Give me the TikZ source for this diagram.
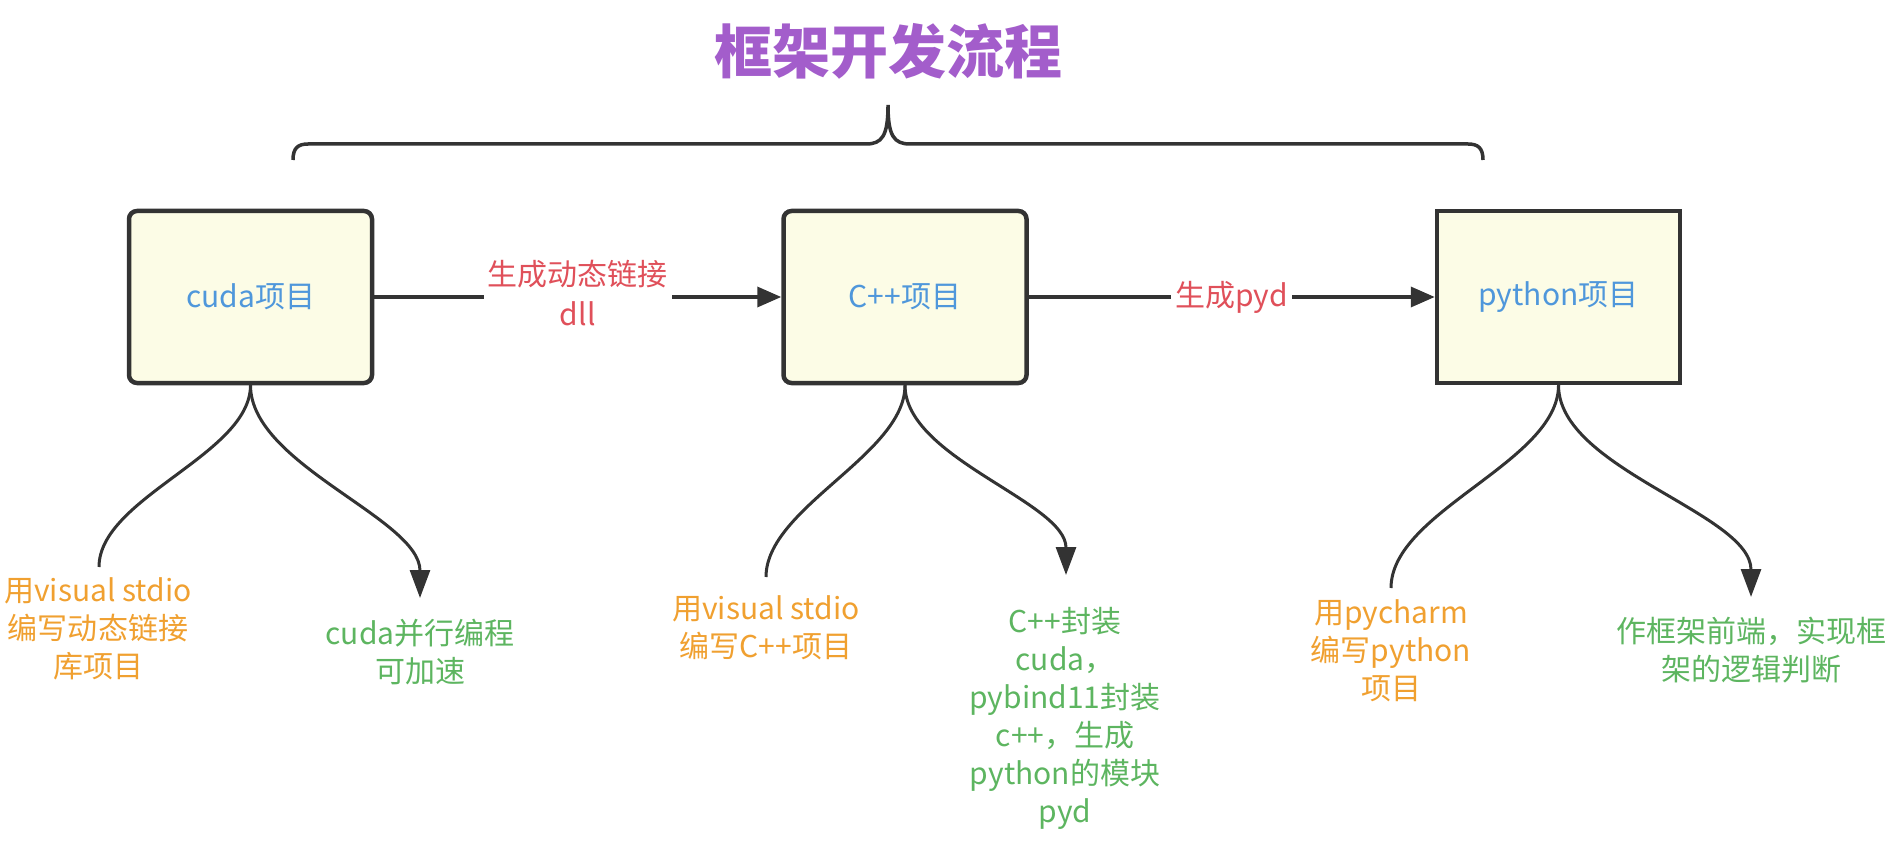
\documentclass[tikz,border=0pt]{standalone}
\usepackage{fontspec}
\setmainfont{Noto Sans CJK SC}
\usetikzlibrary{arrows.meta}
\definecolor{titlepurple}{HTML}{A35DCB}
\definecolor{boxfill}{HTML}{FCFCE6}
\definecolor{boxblue}{HTML}{4F97DB}
\definecolor{linkred}{HTML}{E0505A}
\definecolor{noteorange}{HTML}{F0A030}
\definecolor{notegreen}{HTML}{5DB560}
\definecolor{edgegray}{HTML}{333333}
\begin{document}
\begin{tikzpicture}[x=1pt,y=-1pt,
  proj/.style={draw=edgegray,line width=4.5pt,fill=boxfill,minimum width=243pt,minimum height=172pt,
    text=boxblue,font=\fontsize{30}{36}\selectfont},
  link/.style={edgegray,line width=3.5pt,-{Triangle[length=24pt,width=20pt]}},
  linklabel/.style={fill=white,text=linkred,inner sep=4pt,align=center,font=\fontsize{30}{40}\selectfont},
  branch/.style={edgegray,line width=3pt},
  branchtip/.style={branch,-{Triangle[length=28pt,width=20pt]}},
  note/.style={align=center,inner sep=0pt,font=\fontsize{30}{38}\selectfont}]
\useasboundingbox (0,0) rectangle (1902,842);
% title and brace
\node (title) at (888,51) {\fontsize{58}{60}\selectfont\bfseries\color{titlepurple}框架开发流程};
\draw [edgegray,line width=3.5pt] (293,160) .. controls (293,148) and (298,144) .. (308,144) -- (866,144)
  .. controls (882,144) and (888,136) .. (888,105) .. controls (888,136) and (894,144) .. (910,144)
  -- (1468,144) .. controls (1478,144) and (1483,148) .. (1483,160);
% projects
\node [proj,rounded corners=8pt] (cuda) at (250.5,297) {cuda项目};
\node [proj,rounded corners=8pt] (cpp) at (905,297) {C++项目};
\node [proj] (py) at (1558.5,297) {python项目};
\draw [link] (cuda) -- node [linklabel,yshift=4pt] {生成动态链接\\dll} (cpp);
\draw [link] (cpp) -- node [linklabel] {生成pyd} (py);
% branch ends
\coordinate (cudaL) at (99,567);
\coordinate (cudaR) at (420,598);
\coordinate (cppL) at (766,577);
\coordinate (cppR) at (1066,575);
\coordinate (pyL) at (1391,588);
\coordinate (pyR) at (1751,597);
\draw [branch] (cuda.south) to [out=-90,in=90,looseness=0.75] (cudaL);
\draw [branchtip] (cuda.south) to [out=-90,in=90,looseness=0.75] (cudaR);
\draw [branch] (cpp.south) to [out=-90,in=90,looseness=0.75] (cppL);
\draw [branchtip] (cpp.south) to [out=-90,in=90,looseness=0.75] (cppR);
\draw [branch] (py.south) to [out=-90,in=90,looseness=0.75] (pyL);
\draw [branchtip] (py.south) to [out=-90,in=90,looseness=0.75] (pyR);
% notes
\node [note,text=noteorange] (cudaLnote) at (98,629) {用visual stdio\\编写动态链接\\库项目};
\node [note,text=notegreen] (cudaRnote) at (420,652) {cuda并行编程\\可加速};
\node [note,text=noteorange] (cppLnote) at (766,628) {用visual stdio\\编写C++项目};
\node [note,text=notegreen] (cppRnote) at (1065,718) {C++封装\\cuda，\\pybind11封装\\c++，生成\\python的模块\\pyd};
\node [note,text=noteorange] (pyLnote) at (1391,651) {用pycharm\\编写python\\项目};
\node [note,text=notegreen] (pyRnote) at (1751,650) {作框架前端，实现框\\架的逻辑判断};
\end{tikzpicture}
\end{document}
